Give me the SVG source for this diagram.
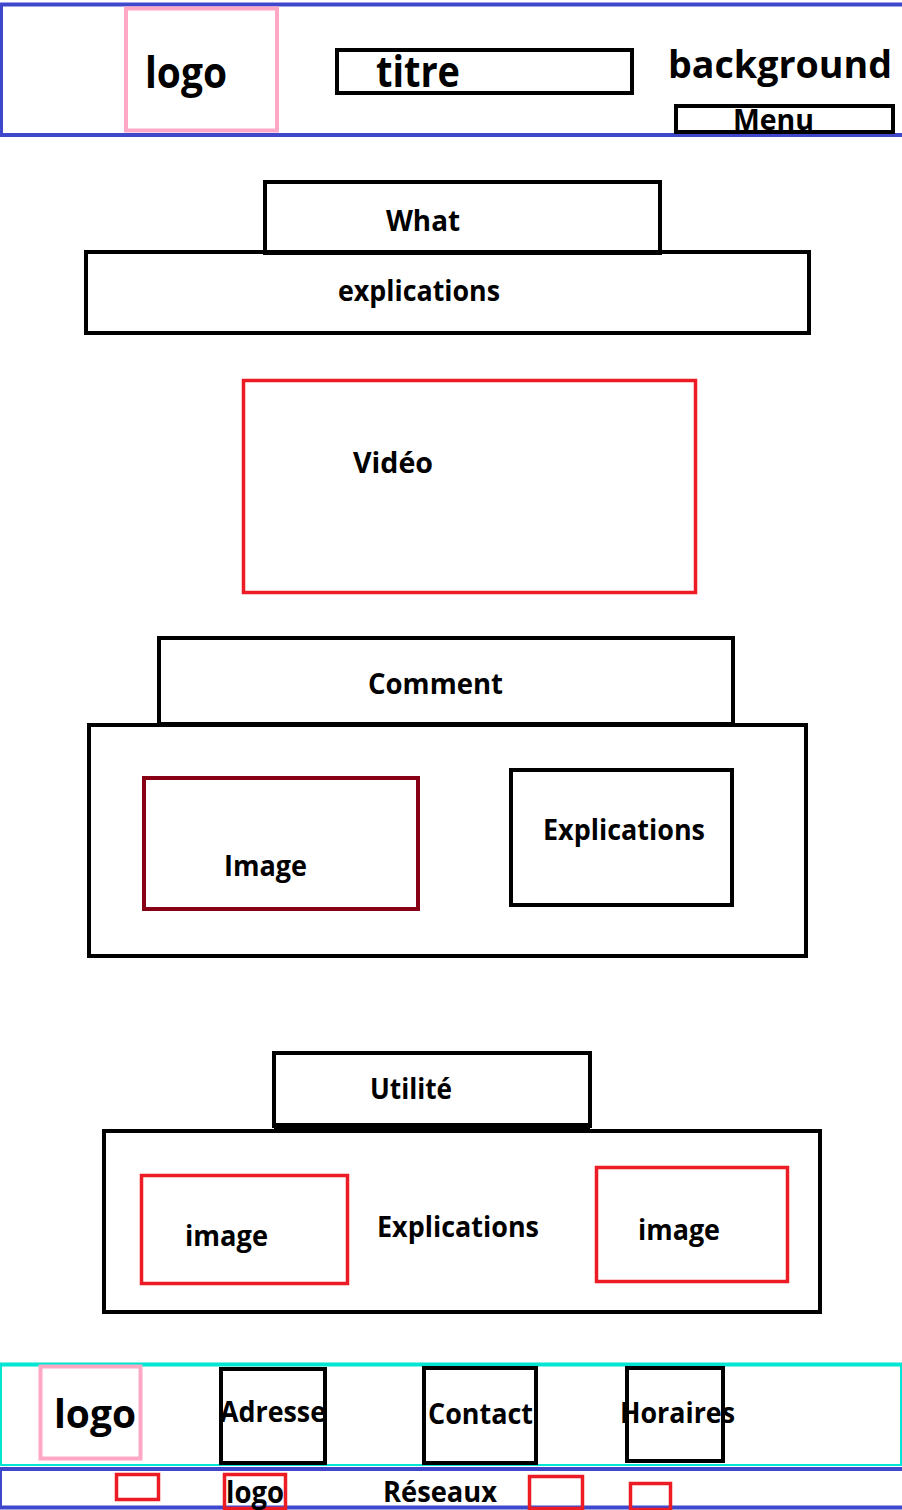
<svg xmlns="http://www.w3.org/2000/svg" width="902" height="1510" viewBox="0 0 902 1510">
  <style>
    text { font-family: "Open Sans", "Liberation Sans", sans-serif; font-weight: 700; fill: #000; }
    .box { fill: none; stroke: #000; stroke-width: 4; }
    .red { fill: none; stroke: #ed1c24; stroke-width: 3.5; }
    .pink { fill: none; stroke: #ffa8c6; stroke-width: 4; }
    .maroon { fill: none; stroke: #880015; stroke-width: 4; }
    .band { fill: none; stroke: #3f48cc; }
    .teal { fill: none; stroke: #00e6d2; }
  </style>
  <rect width="902" height="1510" fill="#fff"/>

  <!-- header band -->
  <g id="header">
    <line class="band" x1="0" y1="4.5" x2="902" y2="4.5" stroke-width="4"/>
    <line class="band" x1="0" y1="135" x2="902" y2="135" stroke-width="4"/>
    <line class="band" x1="1.5" y1="3" x2="1.5" y2="137" stroke-width="3"/>
  </g>
  <g id="header-logo">
    <rect class="pink" x="126" y="8.5" width="151" height="122"/>
    <text x="145" y="88" font-size="43" textLength="82" lengthAdjust="spacingAndGlyphs">logo</text>
  </g>
  <g id="header-titre">
    <rect class="box" x="337" y="50" width="295" height="43"/>
    <text x="376" y="87" font-size="43" textLength="84" lengthAdjust="spacingAndGlyphs">titre</text>
  </g>
  <g id="header-background">
    <text x="668" y="78" font-size="38" textLength="224" lengthAdjust="spacingAndGlyphs">background</text>
  </g>
  <g id="header-menu">
    <text x="733" y="130" font-size="28" textLength="81" lengthAdjust="spacingAndGlyphs">Menu</text>
    <rect class="box" x="676" y="106" width="217" height="26"/>
  </g>

  <!-- What section -->
  <g id="what">
    <rect class="box" x="265" y="182" width="395" height="71"/>
    <text x="386" y="231" font-size="29" textLength="74" lengthAdjust="spacingAndGlyphs">What</text>
  </g>
  <g id="what-explications">
    <rect class="box" x="86" y="252" width="723" height="81"/>
    <text x="338" y="301" font-size="29" textLength="162" lengthAdjust="spacingAndGlyphs">explications</text>
  </g>

  <!-- video -->
  <g id="video">
    <rect class="red" x="243.5" y="380.5" width="452" height="212"/>
    <text x="353" y="473" font-size="29" textLength="80" lengthAdjust="spacingAndGlyphs">Vidéo</text>
  </g>

  <!-- Comment section -->
  <g id="comment">
    <rect class="box" x="159" y="638" width="574" height="86"/>
    <text x="368" y="694" font-size="29" textLength="135" lengthAdjust="spacingAndGlyphs">Comment</text>
  </g>
  <g id="comment-body">
    <rect class="box" x="89" y="725" width="717" height="231" fill="#fff"/>
  </g>
  <g id="comment-image">
    <rect class="maroon" x="144" y="778" width="274" height="131"/>
    <text x="224" y="876" font-size="29" textLength="83" lengthAdjust="spacingAndGlyphs">Image</text>
  </g>
  <g id="comment-explications">
    <rect class="box" x="511" y="770" width="221" height="135"/>
    <text x="543" y="840" font-size="29" textLength="162" lengthAdjust="spacingAndGlyphs">Explications</text>
  </g>

  <!-- Utilité section -->
  <g id="utilite">
    <rect class="box" x="274" y="1053" width="316" height="73"/>
    <line x1="274" y1="1126" x2="590" y2="1126" stroke="#000" stroke-width="6"/>
    <text x="370" y="1099" font-size="29" textLength="82" lengthAdjust="spacingAndGlyphs">Utilité</text>
  </g>
  <g id="utilite-body">
    <rect class="box" x="104" y="1131" width="716" height="181"/>
    <text x="377" y="1237" font-size="29" textLength="162" lengthAdjust="spacingAndGlyphs">Explications</text>
  </g>
  <g id="utilite-image-left">
    <rect class="red" x="141.5" y="1175.5" width="206" height="108"/>
    <text x="185" y="1246" font-size="29" textLength="83" lengthAdjust="spacingAndGlyphs">image</text>
  </g>
  <g id="utilite-image-right">
    <rect class="red" x="596.5" y="1167.5" width="191" height="114"/>
    <text x="638" y="1240" font-size="29" textLength="82" lengthAdjust="spacingAndGlyphs">image</text>
  </g>

  <!-- footer band -->
  <g id="footer">
    <line class="teal" x1="0" y1="1364.5" x2="902" y2="1364.5" stroke-width="4"/>
    <line class="teal" x1="0" y1="1465" x2="902" y2="1465" stroke-width="2"/>
    <line class="teal" x1="1" y1="1363" x2="1" y2="1466" stroke-width="2"/>
    <line class="teal" x1="901" y1="1363" x2="901" y2="1466" stroke-width="2"/>
    <line class="band" x1="0" y1="1469" x2="902" y2="1469" stroke-width="4"/>
    <line class="band" x1="0" y1="1507.5" x2="902" y2="1507.5" stroke-width="4"/>
    <line class="band" x1="1" y1="1467" x2="1" y2="1509" stroke-width="2"/>
  </g>
  <g id="footer-logo">
    <rect class="pink" x="40.5" y="1366.5" width="100" height="92"/>
    <text x="54" y="1428" font-size="40" textLength="82" lengthAdjust="spacingAndGlyphs">logo</text>
  </g>
  <g id="footer-adresse">
    <rect class="box" x="221" y="1369" width="104" height="94"/>
    <text x="220" y="1422" font-size="29" textLength="106" lengthAdjust="spacingAndGlyphs">Adresse</text>
  </g>
  <g id="footer-contact">
    <rect class="box" x="424" y="1368" width="112" height="95"/>
    <text x="428" y="1424" font-size="29" textLength="105" lengthAdjust="spacingAndGlyphs">Contact</text>
  </g>
  <g id="footer-horaires">
    <rect class="box" x="627" y="1368" width="96" height="93"/>
    <text x="620" y="1423" font-size="29" textLength="115" lengthAdjust="spacingAndGlyphs">Horaires</text>
  </g>
  <g id="social-1">
    <rect class="red" x="116.5" y="1474.5" width="42" height="25"/>
  </g>
  <g id="social-logo">
    <rect class="red" x="224.5" y="1474.5" width="61" height="34"/>
    <text x="226" y="1503" font-size="31" textLength="58" lengthAdjust="spacingAndGlyphs">logo</text>
  </g>
  <g id="reseaux">
    <text x="383" y="1502" font-size="29" textLength="114" lengthAdjust="spacingAndGlyphs">Réseaux</text>
  </g>
  <g id="social-2">
    <rect class="red" x="529.5" y="1476.5" width="53" height="32"/>
  </g>
  <g id="social-3">
    <rect class="red" x="630.5" y="1483.5" width="40" height="26"/>
  </g>
</svg>
